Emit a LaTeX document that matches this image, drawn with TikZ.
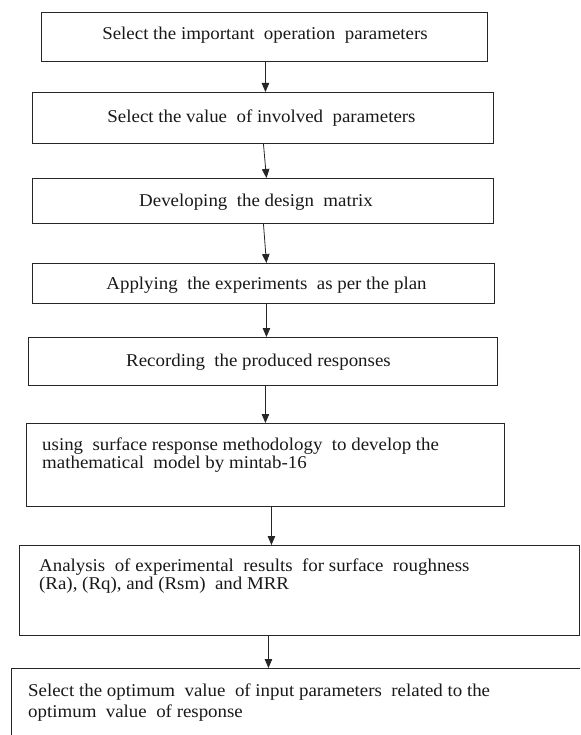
\documentclass[tikz,border=0pt]{standalone}
\usepackage{fontspec}
\setmainfont[FakeStretch=1.05]{Liberation Serif}
\usetikzlibrary{arrows.meta}
\newcommand\dsp{\ \ }
\begin{document}
\begin{tikzpicture}[x=1pt,y=-1pt,
  box/.style={draw=black!85,line width=0.9pt,inner sep=0pt,anchor=north west},
  lbl/.style={font=\fontsize{18}{15.5}\selectfont,inner sep=0pt,text=black!90},
  arr/.style={draw=black!85,line width=0.8pt,-{Triangle[length=9pt,width=7.5pt]}}]
\useasboundingbox (0,0) rectangle (580,735);
\fill[white] (0,0) rectangle (580,735);
\begin{scope}
\clip (0,0) rectangle (580,735);
% boxes
\node[box,minimum width=446pt,minimum height=49pt] (b1) at (41,12) {};
\node[box,minimum width=461pt,minimum height=51pt] (b2) at (32,92) {};
\node[box,minimum width=461pt,minimum height=45pt] (b3) at (32,178) {};
\node[box,minimum width=462pt,minimum height=40pt] (b4) at (32,263) {};
\node[box,minimum width=469pt,minimum height=48pt] (b5) at (28,337) {};
\node[box,minimum width=478pt,minimum height=83pt] (b6) at (26,423) {};
\node[box,minimum width=560pt,minimum height=90pt] (b7) at (19,545) {};
\node[box,minimum width=620pt,minimum height=100pt] (b8) at (11,668) {};
% texts
\node[lbl,anchor=base] (t1) at (265,40) {Select the important\dsp operation\dsp parameters};
\node[lbl,anchor=base] (t2) at (261.5,123) {Select the value\dsp of involved\dsp parameters};
\node[lbl,anchor=base] (t3) at (256,207) {Developing\dsp the design\dsp matrix};
\node[lbl,anchor=base] (t4) at (266.5,289) {Applying\dsp the experiments\dsp as per the plan};
\node[lbl,anchor=base] (t5) at (258.5,366) {Recording\dsp the produced responses};
\node[lbl,anchor=base west,align=left] (t6) at (42,468) {using\dsp surface response methodology\dsp to develop the\\mathematical\dsp model by mintab-16};
\node[lbl,anchor=base west,align=left] (t7) at (39,589) {Analysis\dsp of experimental\dsp results\dsp for surface\dsp roughness\\(Ra), (Rq), and (Rsm)\dsp and MRR};
\node[lbl,anchor=base west,align=left,font=\fontsize{18}{21}\selectfont] (t8) at (28,717) {Select the optimum\dsp value\dsp of input parameters\dsp related to the\\optimum\dsp value\dsp of response};
% arrows
\draw[arr] ([xshift=1pt]b1.south) -- ([xshift=2.5pt]b2.north);
\draw[arr] ([xshift=0.5pt]b2.south) -- ([xshift=3.5pt]b3.north);
\draw[arr] ([xshift=0.5pt]b3.south) -- ([xshift=3pt]b4.north);
\draw[arr] ([xshift=3pt]b4.south) -- ([xshift=3.5pt]b5.north);
\draw[arr] ([xshift=2.5pt]b5.south) -- (b6.north);
\draw[arr] ([xshift=6pt]b6.south) -- ([xshift=-28pt]b7.north);
\draw[arr] ([xshift=-31pt]b7.south) -- ([xshift=-53pt]b8.north);
\end{scope}
\end{tikzpicture}
\end{document}
